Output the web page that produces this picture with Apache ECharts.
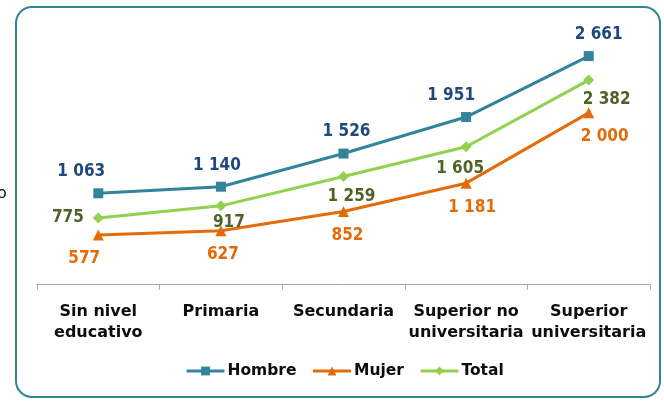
<!DOCTYPE html>
<html>
<head>
<meta charset="utf-8">
<script src="https://cdn.jsdelivr.net/npm/echarts@6/dist/echarts.min.js"></script>
<style>
html,body{margin:0;padding:0;background:#fff;}
#c{width:664px;height:405px;}
</style>
</head>
<body>
<div id="c"></div>
<script>
const categories = ['Sin nivel\neducativo', 'Primaria', 'Secundaria', 'Superior no\nuniversitaria', 'Superior\nuniversitaria'];
const hombre = [1063, 1140, 1526, 1951, 2661];
const mujer = [577, 627, 852, 1181, 2000];
const total = [775, 917, 1259, 1605, 2382];

// label nudges (styling only)
const hombreOff = [[-17,0],[-4,0],[3,0],[-15,0],[10,0]];
const mujerOff = [[-14,0],[2,0],[4,0],[6,0],[16,0]];
const totalOff = [[0,0],[8,-3],[8,0],[-6,2],[18,0]];

function fmt(v){ return String(v).replace(/\B(?=(\d{3})+(?!\d))/g, ' '); }

const labelFont = {fontFamily: 'DejaVu Sans Condensed', fontWeight: 'bold', fontSize: 17};

function build(vals, offs, extra){
  return vals.map((v,i)=>{
    const d = {value: v, label: {offset: offs[i]}};
    if (extra && extra[i]) Object.assign(d.label, extra[i]);
    return d;
  });
}

const chart = echarts.init(document.getElementById('c'), null, {renderer:'canvas'});
chart.setOption({
  animation: false,
  backgroundColor: '#fff',
  grid: {left: 37, right: 14, top: 27, bottom: 117},
  xAxis: {
    type: 'category',
    data: categories,
    boundaryGap: true,
    axisLine: {lineStyle: {color: '#A6A6A6', width: 1}},
    axisTick: {show: true, length: 5, lineStyle: {color: '#A6A6A6'}},
    axisLabel: {color: '#0d0d0d', fontFamily: 'DejaVu Sans', fontWeight: 'bold', fontSize: 16, lineHeight: 21, margin: 13, interval: 0}
  },
  yAxis: {
    type: 'value', min: -40, max: 3000,
    show: false, splitLine: {show: false}
  },
  legend: {
    bottom: 21, left: 180,
    itemWidth: 38, itemHeight: 11, itemGap: 15,
    lineStyle: {width: 3},
    textStyle: {color: '#0d0d0d', fontFamily: 'DejaVu Sans', fontWeight: 'bold', fontSize: 15.5, padding: [0,0,0,-2]},
    data: ['Hombre', 'Mujer', 'Total']
  },
  series: [
    {
      name: 'Hombre', type: 'line',
      data: build(hombre, hombreOff),
      symbol: 'rect', symbolSize: 10,
      lineStyle: {color: '#31849B', width: 3},
      itemStyle: {color: '#31849B'},
      label: Object.assign({show: true, position: 'top', distance: 8, color: '#1F497D', formatter: p => fmt(p.value)}, labelFont),
      z: 3
    },
    {
      name: 'Mujer', type: 'line',
      data: build(mujer, mujerOff),
      symbol: 'triangle', symbolSize: 11,
      lineStyle: {color: '#E36C09', width: 3},
      itemStyle: {color: '#E36C09'},
      label: Object.assign({show: true, position: 'bottom', distance: 10, color: '#E36C09', formatter: p => fmt(p.value)}, labelFont),
      z: 2
    },
    {
      name: 'Total', type: 'line',
      data: build(total, totalOff, [{position: 'left', distance: 9}]),
      symbol: 'diamond', symbolSize: 11,
      lineStyle: {color: '#92D050', width: 3},
      itemStyle: {color: '#92D050'},
      label: Object.assign({show: true, position: 'bottom', distance: 6, color: '#4F6228', formatter: p => fmt(p.value)}, labelFont),
      z: 2
    }
  ],
  graphic: [
    {
      type: 'rect', silent: true, z: -1,
      shape: {x: 16, y: 7, width: 644, height: 390, r: 16},
      style: {fill: 'none', stroke: '#31849B', lineWidth: 2}
    },
    {
      type: 'text', left: -3, top: 186,
      style: {text: 'o', fontFamily: 'DejaVu Sans', fontSize: 16, fill: '#0d0d0d'}
    }
  ]
});
</script>
</body>
</html>
